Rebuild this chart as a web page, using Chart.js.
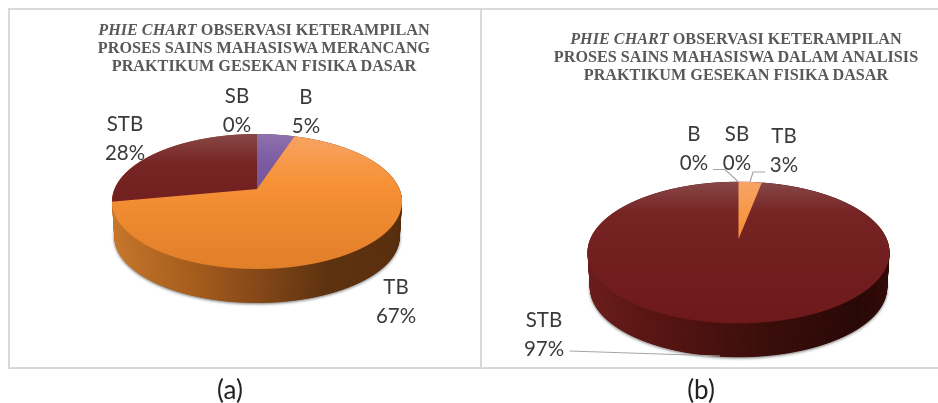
<!DOCTYPE html>
<html><head><meta charset="utf-8">
<script src="https://cdn.jsdelivr.net/npm/chart.js@4"></script>
<style>
html,body{margin:0;padding:0;background:#fff;width:938px;height:403px;overflow:hidden}
canvas{position:absolute;top:0}
.t{position:absolute;transform:translate(-50%,0);white-space:nowrap;text-align:center;font:bold 16.2px/18px "Liberation Serif",serif;color:#595959}
.l{position:absolute;transform:translate(-50%,-50%);white-space:nowrap;text-align:center;font:20.5px/29px Lato,sans-serif;color:#3a3a3a}
.c{position:absolute;transform:translate(-50%,-50%);font:26px/30px Lato,sans-serif;color:#222}
.r{position:absolute;background:#d9d9d9}
svg{position:absolute;left:0;top:0}
</style></head><body>
<div class="r" style="left:8px;top:8px;width:2px;height:360px"></div>
<div class="r" style="left:8px;top:8px;width:930px;height:2px"></div>
<div class="r" style="left:8px;top:367px;width:930px;height:2px"></div>
<div class="r" style="left:480px;top:8px;width:2px;height:360px"></div>
<canvas id="pa" width="469" height="403" style="left:0"></canvas>
<canvas id="pb" width="469" height="403" style="left:469px"></canvas>
<svg width="938" height="403" fill="none" stroke="#a6a6a6" stroke-width="1.2">
<path d="M713 169.5H725L738 181.5"/><path d="M765 172H753L750 182"/><path d="M569.5 351L720 356"/>
</svg>
<div id="txt"></div>
<script>
const labelsA=["SB","B","TB","STB"];
const valuesA=[0,5,67,28];
const labelsB=["SB","TB","STB","B"];
const valuesB=[0,3,97,0];
const titleA=["<i>PHIE CHART</i> OBSERVASI KETERAMPILAN","PROSES SAINS MAHASISWA MERANCANG","PRAKTIKUM GESEKAN FISIKA DASAR"];
const titleB=["<i>PHIE CHART</i> OBSERVASI KETERAMPILAN","PROSES SAINS MAHASISWA DALAM ANALISIS","PRAKTIKUM GESEKAN FISIKA DASAR"];
const colorStops={
 SB:[[0,"#4f81bd"],[1,"#4f81bd"]],
 B:[[0,"#8e72ad"],[0.3,"#7a5aa2"],[1,"#6f4f98"]],
 TB:[[0,"#f8a468"],[0.45,"#f79237"],[1,"#e27f29"]],
 STB:[[0,"#884848"],[0.3,"#772424"],[1,"#6e1a1c"]]
};
const wallA=[[0,"#cc7c30"],[0.3,"#a8601f"],[0.5,"#86491a"],[0.7,"#5f3411"],[1,"#5a3010"]];
const wallB=[[0,"#702120"],[0.3,"#561614"],[0.6,"#3a0f0c"],[0.85,"#2a0a08"],[1,"#3a0e0c"]];

function grad(ctx,x0,y0,x1,y1,stops){const g=ctx.createLinearGradient(x0,y0,x1,y1);stops.forEach(s=>g.addColorStop(s[0],s[1]));return g;}

function project(chart,W,H,geo,fillFor){
  const SS=2,off=document.createElement('canvas');off.width=W*SS;off.height=H*SS;
  const c=off.getContext('2d');
  const arcs=chart.getDatasetMeta(0).data,R=arcs[0].outerRadius,sx=arcs[0].x,sy=arcs[0].y;
  const w=(geo.up-geo.down)/(geo.up+geo.down),aR=geo.up*(1-w),a=aR/R,t=w/R,s=Math.sqrt(1-w*w);
  for(let row=0;row<H*SS;row++){
    const y=(row+.5)/SS,Y=y-geo.apexY;
    if(Y<-geo.up-1||Y>geo.down+1)continue;
    const v=Y/(a-t*Y),D=1+t*v;
    c.save();c.beginPath();c.rect(0,row,W*SS,1);c.clip();
    const mx=SS*s/D,my=SS*a/(D*D);
    c.setTransform(mx,0,0,my,SS*geo.apexX-mx*sx,SS*y-my*(sy+v));
    arcs.forEach((arc,i)=>{
      if(!arc.circumference)return;
      const e=Object.create(arc);
      Object.defineProperty(e,'options',{value:{backgroundColor:fillFor(i),borderColor:'transparent',borderWidth:0,borderAlign:'center',borderJoinStyle:'round',spacing:0,offset:0,borderRadius:0,circular:true}});
      e.draw(c);
    });
    c.restore();
  }
  return off;
}

function persp(geo,wallStops){return{
  id:'persp',
  beforeDatasetsDraw(chart){
    const ctx=chart.ctx,W=chart.width,H=chart.height;
    const arc0=chart.getDatasetMeta(0).data[0],R=arc0.outerRadius,sx=arc0.x,sy=arc0.y;
    const faces=chart.data.labels.map(l=>grad(ctx,0,sy-R,0,sy+R,colorStops[l]));
    const wallG=grad(ctx,sx-R,0,sx+R,0,wallStops);
    const wallImg=project(chart,W,H,geo,()=>wallG);
    const faceImg=project(chart,W,H,geo,i=>faces[i]);
    const midY=geo.apexY+(geo.down-geo.up)/2;
    ctx.save();
    for(let d=geo.depth;d>=0;d-=0.5){
      const f=1-0.015*d/geo.depth;
      if(d===geo.depth){ctx.shadowColor='rgba(0,0,0,.55)';ctx.shadowBlur=3;ctx.shadowOffsetY=1;}else{ctx.shadowColor='transparent';ctx.shadowBlur=0;ctx.shadowOffsetY=0;}
      ctx.drawImage(wallImg,geo.apexX-geo.apexX*f,midY+d-midY*f,W*f,H*f);
    }
    ctx.restore();
    ctx.drawImage(faceImg,0,0,W,H);
    return false;
  }
};}

function pie(id,labels,values,radius,geo,wall){
  return new Chart(document.getElementById(id),{
    type:'pie',
    data:{labels:labels,datasets:[{data:values,radius:radius,borderWidth:0,backgroundColor:labels.map(l=>colorStops[l][0][1])}]},
    options:{responsive:false,animation:false,layout:{padding:0},
      plugins:{legend:{display:false},tooltip:{enabled:false},title:{display:false}}},
    plugins:[persp(geo,wall)]
  });
}
pie('pa',labelsA,valuesA,145,{apexX:257,apexY:189,up:55,down:80,depth:35},wallA);
pie('pb',labelsB,valuesB,151,{apexX:269.5,apexY:239.3,up:57.6,down:84,depth:35},wallB);

const txt=document.getElementById('txt');
function add(cls,x,y,html){const d=document.createElement('div');d.className=cls;d.style.left=x+'px';d.style.top=y+'px';d.innerHTML=html;txt.appendChild(d);}
add('t',264,21,titleA.join('<br>'));
add('t',736,29.5,titleB.join('<br>'));
const posA={SB:[237,110],B:[306,111],TB:[396,301],STB:[125,138]};
const posB={SB:[737,148],B:[694,148],TB:[784,150],STB:[544,334]};
labelsA.forEach((l,i)=>add('l',posA[l][0],posA[l][1],l+'<br>'+valuesA[i]+'%'));
labelsB.forEach((l,i)=>add('l',posB[l][0],posB[l][1],l+'<br>'+valuesB[i]+'%'));
add('c',230,389,'(a)');
add('c',701,389,'(b)');
</script>
</body></html>
